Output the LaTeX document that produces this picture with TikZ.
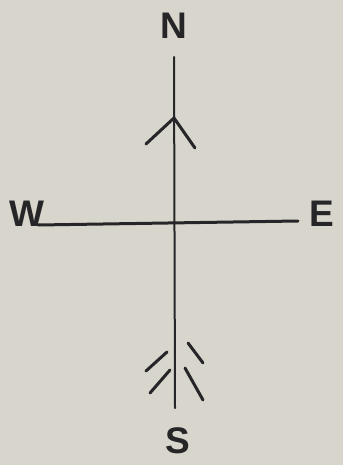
\documentclass[tikz,border=0pt]{standalone}
\usepackage{fontspec}
\setmainfont{Liberation Sans}
\usetikzlibrary{calc}
\definecolor{paper}{RGB}{216,213,204}
\definecolor{ink}{RGB}{38,38,40}

\begin{document}
\begin{tikzpicture}[x=1pt,y=-1pt,line width=2pt,line cap=round,
  ink/.style={draw=ink},
  pt/.style={font=\fontsize{37}{37}\selectfont\bfseries,text=ink,inner sep=0pt}]
  \fill[paper] (0,0) rectangle (343,465);
  \useasboundingbox (0,0) rectangle (343,465);
  % --- ends of the cross ---
  \coordinate (top) at (174,57);
  \coordinate (bot) at (175,408);
  \coordinate (west) at (38,225);
  \coordinate (east) at (298,221);
  % --- letters ---
  \node[pt] (N) at (174,26) {N};
  \node[pt] (S) at (178,441) {S};
  \node[pt] (W) at (27,214) {W};
  \node[pt] (E) at (322,214) {E};
  % axes
  \draw[ink] (top) -- (bot);
  \draw[ink,line width=3pt] (west) -- (east);
  % arrow head
  \coordinate (tip) at (174,118);
  \draw[ink,line width=3pt] (146,144) -- (tip) -- (195,148);
  % feathers
  \begin{scope}[line width=3pt]
    \draw[ink] (146,371) -- (167,352);
    \draw[ink] (150,393) -- (170,370);
    \draw[ink] (188,343) -- (203,363);
    \draw[ink] (185,368) -- (203,400);
  \end{scope}
\end{tikzpicture}
\end{document}
